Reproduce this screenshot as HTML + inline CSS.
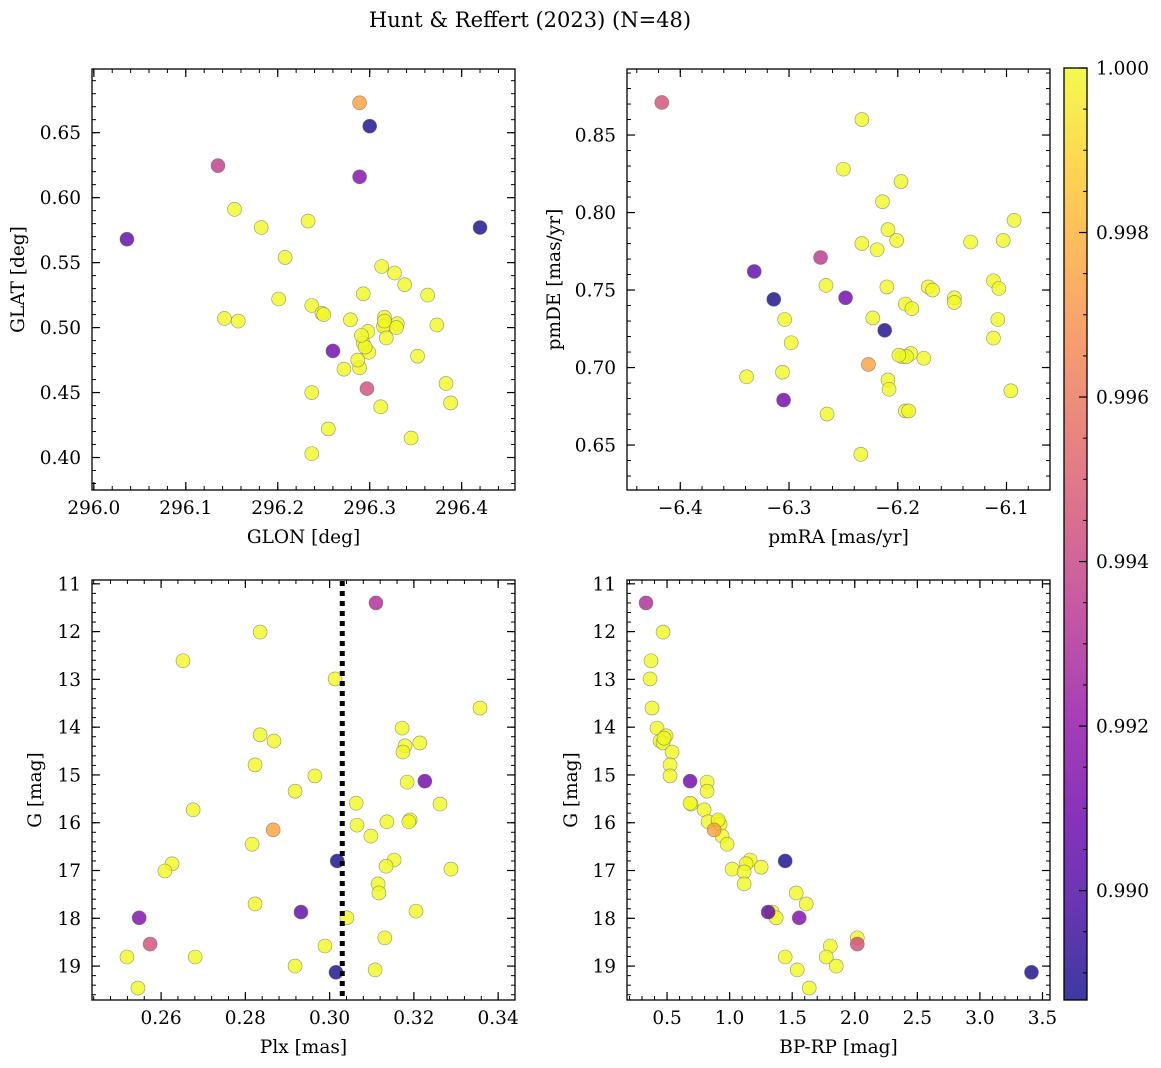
<!DOCTYPE html>
<html><head><meta charset="utf-8">
<style>
html,body{margin:0;padding:0;background:#fff;}
svg{display:block;font-family:"DejaVu Serif","Liberation Serif",serif;}
</style></head>
<body>
<svg id="fig" width="1161" height="1068" viewBox="0 0 1161 1068" xmlns="http://www.w3.org/2000/svg">
<text x="530" y="27" font-size="21" text-anchor="middle">Hunt &amp; Reffert (2023) (N=48)</text>
</svg>
<script>
// Panel 1: GLON vs GLAT
const glon = [296.289,296.300,296.135,296.289,296.036,296.420,296.153,296.182,296.233,296.208,296.313,296.327,296.338,296.293,296.201,296.363,296.237,296.142,296.157,296.248,296.316,296.317,296.315,296.279,296.373,296.298,296.293,296.318,296.330,296.299,296.352,296.260,296.289,296.272,296.383,296.237,296.297,296.388,296.312,296.345,296.255,296.237,296.250,296.329,296.295,296.316,296.287,296.291];
const glat = [0.673,0.655,0.6246,0.616,0.568,0.577,0.591,0.577,0.582,0.554,0.547,0.542,0.533,0.526,0.522,0.525,0.517,0.507,0.505,0.511,0.508,0.502,0.501,0.506,0.502,0.497,0.488,0.492,0.503,0.481,0.478,0.482,0.469,0.468,0.457,0.450,0.453,0.442,0.439,0.415,0.422,0.403,0.510,0.500,0.485,0.505,0.475,0.494];
const prob1 = [0.9975,0.9888,0.9937,0.9915,0.9905,0.9888,1,1,1,1,1,1,1,1,1,1,1,1,1,1,1,1,1,1,1,1,1,1,1,1,1,0.991,1,1,1,1,0.9945,1,1,1,1,1,1,1,1,1,1,1];
// Panel 2: pmRA vs pmDE
const pmra = [-6.417,-6.233,-6.250,-6.197,-6.214,-6.093,-6.209,-6.201,-6.133,-6.103,-6.233,-6.219,-6.271,-6.332,-6.266,-6.112,-6.210,-6.172,-6.107,-6.168,-6.148,-6.148,-6.314,-6.248,-6.193,-6.187,-6.304,-6.223,-6.108,-6.212,-6.112,-6.298,-6.188,-6.196,-6.176,-6.192,-6.227,-6.306,-6.209,-6.339,-6.096,-6.208,-6.305,-6.193,-6.190,-6.265,-6.234,-6.199];
const pmde = [0.871,0.860,0.828,0.820,0.807,0.795,0.789,0.782,0.781,0.782,0.780,0.776,0.771,0.762,0.753,0.756,0.752,0.752,0.751,0.750,0.745,0.742,0.744,0.745,0.741,0.738,0.731,0.732,0.731,0.724,0.719,0.716,0.709,0.707,0.706,0.707,0.702,0.697,0.692,0.694,0.685,0.686,0.679,0.672,0.672,0.670,0.644,0.708];
const prob2 = [0.9945,1,1,1,1,1,1,1,1,1,1,1,0.9935,0.9905,1,1,1,1,1,1,1,1,0.9888,0.991,1,1,1,1,1,0.9889,1,1,1,1,1,1,0.9975,1,1,1,1,1,0.991,1,1,1,1,1];
// Panel 3: Plx vs G
const plx = [0.311,0.2835,0.2652,0.3013,0.3357,0.3172,0.2835,0.2868,0.3214,0.3179,0.3174,0.2823,0.2965,0.3226,0.3184,0.2918,0.3063,0.3262,0.2676,0.3136,0.3191,0.3188,0.3065,0.2866,0.3098,0.2816,0.3153,0.3018,0.3134,0.2626,0.3288,0.2609,0.3115,0.3117,0.2823,0.3205,0.2932,0.2548,0.3041,0.3131,0.2574,0.2989,0.2519,0.2681,0.2918,0.3015,0.3108,0.2545];
const gmag3 = [11.40,12.01,12.61,12.99,13.60,14.02,14.16,14.29,14.33,14.39,14.52,14.79,15.02,15.13,15.15,15.34,15.59,15.61,15.73,15.98,15.94,15.98,16.05,16.15,16.28,16.45,16.78,16.80,16.91,16.86,16.97,17.01,17.28,17.47,17.70,17.85,17.87,17.99,17.99,18.41,18.54,18.58,18.81,18.81,19.00,19.13,19.08,19.46];
const prob3 = [0.993,1,1,1,1,1,1,1,1,1,1,1,1,0.991,1,1,1,1,1,1,1,1,1,0.9975,1,1,1,0.9888,1,1,1,1,1,1,1,1,0.9905,0.9915,1,1,0.9945,1,1,1,1,0.9888,1,1];
const plxLine = [0.303];
// Panel 4: BP-RP vs G
const bprp = [0.332,0.468,0.372,0.364,0.380,0.420,0.492,0.444,0.468,0.540,0.524,0.524,0.684,0.820,0.820,0.692,0.684,0.796,0.908,0.828,0.924,0.876,0.940,0.980,1.164,1.444,1.132,1.020,1.252,1.116,1.116,1.532,1.612,1.308,1.340,1.372,1.556,2.020,2.020,1.804,1.444,1.772,1.852,3.412,1.540,1.636,0.908,0.476];
const gmag4 = [11.40,12.01,12.61,12.99,13.60,14.02,14.18,14.29,14.33,14.52,14.79,15.02,15.13,15.15,15.34,15.61,15.59,15.73,15.98,15.98,16.03,16.15,16.28,16.45,16.78,16.80,16.86,16.97,16.93,17.03,17.28,17.47,17.70,17.87,17.87,17.99,17.99,18.41,18.54,18.58,18.81,18.81,19.00,19.13,19.08,19.46,15.94,14.23];
const prob4 = [0.993,1,1,1,1,1,1,1,1,1,1,1,0.991,1,1,1,1,1,1,1,1,0.9975,1,1,1,0.9888,1,1,1,1,1,1,1,0.9905,1,1,0.9915,1,0.9945,1,1,1,1,0.9888,1,1,1,1];
// Tick labels
const ticks1x = [296.0,296.1,296.2,296.3,296.4];
const ticks1y = [0.40,0.45,0.50,0.55,0.60,0.65];
const ticks2x = [-6.4,-6.3,-6.2,-6.1];
const ticks2y = [0.65,0.70,0.75,0.80,0.85];
const ticks3x = [0.26,0.28,0.30,0.32,0.34];
const ticksG = [11,12,13,14,15,16,17,18,19];
const ticks4x = [0.5,1.0,1.5,2.0,2.5,3.0,3.5];
const ticksCb = [0.990,0.992,0.994,0.996,0.998,1.000];
const cbMin = 0.98867, cbMax = 1.0;

const FS = 18.5;
const NS = "http://www.w3.org/2000/svg";
const svg = document.getElementById('fig');
function el(tag, attrs, parent){
  const e = document.createElementNS(NS, tag);
  for (const k in attrs) e.setAttribute(k, attrs[k]);
  (parent||svg).appendChild(e);
  return e;
}
const stops = ["#0d0887","#41049d","#6a00a8","#8f0da4","#b12a90","#cc4778","#e16462","#f2844b","#fca636","#fcce25","#f0f921"];
function hex(h){return [parseInt(h.slice(1,3),16),parseInt(h.slice(3,5),16),parseInt(h.slice(5,7),16)];}
function plasma(t){
  t=Math.max(0,Math.min(1,t));
  const f=t*10, i=Math.min(9,Math.floor(f)), u=f-i;
  const a=hex(stops[i]), b=hex(stops[i+1]);
  return `rgb(${Math.round(a[0]+(b[0]-a[0])*u)},${Math.round(a[1]+(b[1]-a[1])*u)},${Math.round(a[2]+(b[2]-a[2])*u)})`;
}
function cmap(p){return plasma((p-cbMin)/(cbMax-cbMin));}
function fmt(v,d){return v<0?"\u2212"+Math.abs(v).toFixed(d):v.toFixed(d);}

function panel(cfg){
  const {name,L,T,W,H,xmin,xmax,ymin,ymax,xs,ys,ps,xt,yt,xd,yd,xminor,yminor,xlabel,ylabel,ylabX,invert} = cfg;
  const g = el('g',{});
  
  
  const sx = v => L + (v-xmin)/(xmax-xmin)*W;
  const sy = invert ? (v => T + (v-ymin)/(ymax-ymin)*H) : (v => T + H - (v-ymin)/(ymax-ymin)*H);
  const lo=Math.ceil(xmin/xminor-1e-6), hi=Math.floor(xmax/xminor+1e-6);
  for(let k=lo;k<=hi;k++){const x=sx(k*xminor);
    el('line',{x1:x,x2:x,y1:T+H,y2:T+H-4,stroke:'#000','stroke-width':1},g);
    el('line',{x1:x,x2:x,y1:T,y2:T+4,stroke:'#000','stroke-width':1},g);}
  const lo2=Math.ceil(Math.min(ymin,ymax)/yminor-1e-6), hi2=Math.floor(Math.max(ymin,ymax)/yminor+1e-6);
  for(let k=lo2;k<=hi2;k++){const y=sy(k*yminor);
    el('line',{x1:L,x2:L+4,y1:y,y2:y,stroke:'#000','stroke-width':1},g);
    el('line',{x1:L+W,x2:L+W-4,y1:y,y2:y,stroke:'#000','stroke-width':1},g);}
  xt.forEach(v=>{const x=sx(v);
    el('line',{x1:x,x2:x,y1:T+H,y2:T+H-8,stroke:'#000','stroke-width':1.2},g);
    el('line',{x1:x,x2:x,y1:T,y2:T+8,stroke:'#000','stroke-width':1.2},g);
    const t=el('text',{x:x,y:T+H+24,'font-size':FS,'text-anchor':'middle'},g);
    
    
    t.textContent=fmt(v,xd);});
  yt.forEach(v=>{const y=sy(v);
    el('line',{x1:L,x2:L+8,y1:y,y2:y,stroke:'#000','stroke-width':1.2},g);
    el('line',{x1:L+W,x2:L+W-8,y1:y,y2:y,stroke:'#000','stroke-width':1.2},g);
    const t=el('text',{x:L-11,y:y+6.5,'font-size':FS,'text-anchor':'end'},g);
    
    
    t.textContent=fmt(v,yd);});
  const idx=xs.map((_,i)=>i).sort((a,b)=>ps[b]-ps[a]);
  idx.forEach(i=>{
    const c=el('circle',{cx:sx(xs[i]),cy:sy(ys[i]),r:7,fill:cmap(ps[i]),'fill-opacity':0.8,stroke:'#666','stroke-width':0.6,'stroke-opacity':0.7},g);
    
    
  });
  const fr=el('rect',{x:L,y:T,width:W,height:H,fill:'none',stroke:'#000','stroke-width':1.3},g);
  
  
  const xl=el('text',{x:L+W/2,y:T+H+53,'font-size':FS,'text-anchor':'middle'},g);
  
  
  xl.textContent=xlabel;
  const cy=T+H/2;
  const yl=el('text',{x:ylabX,y:cy,'font-size':FS,'text-anchor':'middle',transform:`rotate(-90 ${ylabX} ${cy})`},g);
  
  
  yl.textContent=ylabel;
  return sx;
}

panel({name:'glon-glat-panel',L:92,T:69,W:423,H:421,xmin:295.998,xmax:296.458,ymin:0.375,ymax:0.699,xs:glon,ys:glat,ps:prob1,xt:ticks1x,yt:ticks1y,xd:1,yd:2,xminor:0.02,yminor:0.01,xlabel:'GLON [deg]',ylabel:'GLAT [deg]',ylabX:24});
panel({name:'pm-panel',L:627,T:69,W:423,H:421,xmin:-6.449,xmax:-6.060,ymin:0.621,ymax:0.8926,xs:pmra,ys:pmde,ps:prob2,xt:ticks2x,yt:ticks2y,xd:1,yd:2,xminor:0.02,yminor:0.01,xlabel:'pmRA [mas/yr]',ylabel:'pmDE [mas/yr]',ylabX:560});
const sxPlx = panel({name:'plx-g-panel',L:92,T:580,W:423,H:420,xmin:0.2436,xmax:0.3440,ymin:10.92,ymax:19.71,invert:true,xs:plx,ys:gmag3,ps:prob3,xt:ticks3x,yt:ticksG,xd:2,yd:0,xminor:0.004,yminor:0.2,xlabel:'Plx [mas]',ylabel:'G [mag]',ylabX:41});
panel({name:'cmd-panel',L:627,T:580,W:423,H:420,xmin:0.18,xmax:3.56,ymin:10.92,ymax:19.71,invert:true,xs:bprp,ys:gmag4,ps:prob4,xt:ticks4x,yt:ticksG,xd:1,yd:0,xminor:0.1,yminor:0.2,xlabel:'BP-RP [mag]',ylabel:'G [mag]',ylabX:577});

// dotted parallax reference line (drawn on top)
const vx = sxPlx(plxLine[0]);
const vl = el('path',{d:`M${vx},581 L${vx},999`,fill:'none',stroke:'#000','stroke-width':5,'stroke-dasharray':'5 5'});



(function(){
  const L=1064,T=68,W=23,H=932;
  const g=el('g',{});
  
  
  const defs=el('defs',{},g);
  const lg=el('linearGradient',{id:'cbg',x1:0,y1:1,x2:0,y2:0},defs);
  for(let i=0;i<=20;i++){el('stop',{offset:i/20,'stop-color':plasma(i/20),'stop-opacity':0.8},lg);}
  el('rect',{x:L,y:T,width:W,height:H,fill:'url(#cbg)'},g);
  const sy=v=>T+H-(v-cbMin)/(cbMax-cbMin)*H;
  for(let v=0.9890;v<=1.00001;v+=0.0005){const y=sy(v);el('line',{x1:L+W,x2:L+W-4,y1:y,y2:y,stroke:'#000','stroke-width':1},g);}
  ticksCb.forEach(v=>{const y=sy(v);
    el('line',{x1:L+W,x2:L+W-8,y1:y,y2:y,stroke:'#000','stroke-width':1.2},g);
    const t=el('text',{x:L+W+9,y:y+6.5,'font-size':FS},g);
    
    
    t.textContent=v.toFixed(3);});
  el('rect',{x:L,y:T,width:W,height:H,fill:'none',stroke:'#000','stroke-width':1.3},g);
})();
</script>
</body></html>
